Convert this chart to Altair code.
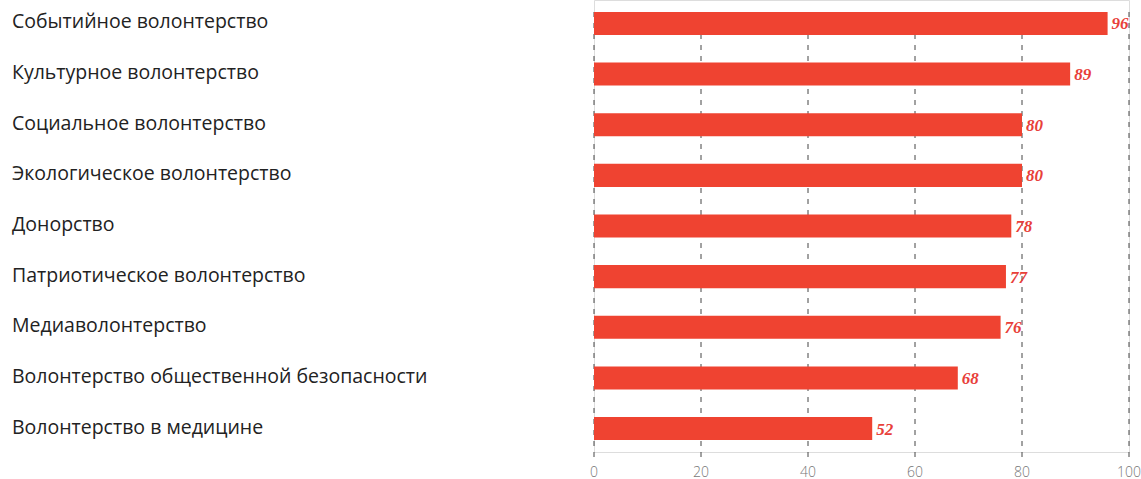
import altair as alt
import pandas as pd

# Volunteering directions and their scores
categories = [
    "Событийное волонтерство",
    "Культурное волонтерство",
    "Социальное волонтерство",
    "Экологическое волонтерство",
    "Донорство",
    "Патриотическое волонтерство",
    "Медиаволонтерство",
    "Волонтерство общественной безопасности",
    "Волонтерство в медицине",
]
values = [96, 89, 80, 80, 78, 77, 76, 68, 52]
grid_ticks = [0, 20, 40, 60, 80, 100]

BAR_RED = "#ef4331"
LABEL_RED = "#e8403a"

df = pd.DataFrame({"category": categories, "value": values})
grid_df = pd.DataFrame({"tick": grid_ticks})

x_scale = alt.Scale(domain=[0, 100], nice=False)
y_scale = alt.Scale(domain=categories, paddingInner=0.545, paddingOuter=0.235)

# Dashed vertical gridlines
grid = alt.Chart(grid_df).mark_rule(
    color="#444444", strokeWidth=1, strokeDash=[5, 6]
).encode(
    x=alt.X("tick:Q", scale=x_scale, axis=None),
    y=alt.value(12),
    y2=alt.value(458),
)

# Tick labels under the gridlines
tick_labels = alt.Chart(grid_df).mark_text(
    align="center",
    baseline="alphabetic",
    font="Open Sans",
    fontSize=14,
    fontWeight=300,
    color="#777777",
).encode(
    x=alt.X("tick:Q", scale=x_scale, axis=None),
    y=alt.value(477),
    text=alt.Text("tick:Q"),
)

bars = alt.Chart(df).mark_bar(color=BAR_RED).encode(
    x=alt.X("value:Q", scale=x_scale, axis=None),
    y=alt.Y("category:N", scale=y_scale, sort=categories, axis=None),
)

# Category names, left-aligned at the chart's left edge
cat_labels = alt.Chart(df).mark_text(
    align="left",
    baseline="middle",
    dy=-1,
    font="Open Sans",
    fontSize=19.5,
    color="#222222",
).encode(
    x=alt.value(-582),
    y=alt.Y("category:N", scale=y_scale, sort=categories, axis=None),
    text=alt.Text("category:N"),
)

value_labels = alt.Chart(df).mark_text(
    align="left",
    baseline="middle",
    dx=4,
    dy=1,
    font="Liberation Serif",
    fontStyle="italic",
    fontWeight="bold",
    fontSize=17,
    color=LABEL_RED,
).encode(
    x=alt.X("value:Q", scale=x_scale, axis=None),
    y=alt.Y("category:N", scale=y_scale, sort=categories, axis=None),
    text=alt.Text("value:Q"),
)

chart = (
    alt.layer(grid, tick_labels, bars, cat_labels, value_labels)
    .properties(
        width=535,
        height=452,
        autosize=alt.AutoSizeParams(type="none"),
        padding={"left": 594, "top": 0, "right": 12, "bottom": 27},
    )
    .configure_view(stroke="transparent", clip=False)
    .configure(background="white")
)

chart.save("out.html", embed_options={"renderer": "svg", "actions": False})
